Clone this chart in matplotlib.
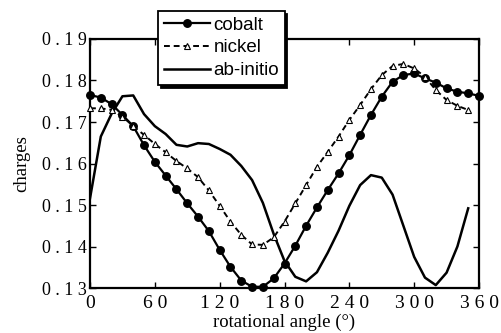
import numpy as np
import matplotlib
matplotlib.use("Agg")
import matplotlib.pyplot as plt

# values, every 10 degrees
angle_cobalt = np.arange(0, 361, 10)
cobalt = [0.1765, 0.1759, 0.1743, 0.1717, 0.1690, 0.1644, 0.1604, 0.1571, 0.1538,
          0.1504, 0.1472, 0.1437, 0.1392, 0.1351, 0.1318, 0.1303, 0.1303, 0.1323,
          0.1359, 0.1402, 0.1450, 0.1494, 0.1536, 0.1576, 0.1620, 0.1669, 0.1717,
          0.1761, 0.1797, 0.1813, 0.1817, 0.1805, 0.1795, 0.1781, 0.1773, 0.1769,
          0.1763]

angle_nickel = np.arange(0, 351, 10)
nickel = [0.1733, 0.1733, 0.1729, 0.1713, 0.1690, 0.1669, 0.1647, 0.1627, 0.1606,
          0.1588, 0.1567, 0.1535, 0.1498, 0.1460, 0.1428, 0.1405, 0.1404, 0.1422,
          0.1460, 0.1504, 0.1548, 0.1592, 0.1628, 0.1665, 0.1705, 0.1741, 0.1779,
          0.1813, 0.1835, 0.1840, 0.1829, 0.1809, 0.1777, 0.1753, 0.1739, 0.1729]

angle_abinitio = np.arange(0, 351, 10)
abinitio = [0.1516, 0.1665, 0.1720, 0.1762, 0.1764, 0.1719, 0.1690, 0.1671, 0.1645,
            0.1641, 0.1649, 0.1647, 0.1635, 0.1621, 0.1594, 0.1560, 0.1505, 0.1430,
            0.1365, 0.1327, 0.1316, 0.1338, 0.1385, 0.1438, 0.1498, 0.1548, 0.1572,
            0.1566, 0.1525, 0.1450, 0.1375, 0.1325, 0.1307, 0.1337, 0.1400, 0.1492]

x_ticks = [0, 60, 120, 180, 240, 300, 360]
y_ticks = [0.13, 0.14, 0.15, 0.16, 0.17, 0.18, 0.19]


def spaced(s):
    # the scanned figure has wide letter spacing on tick labels
    return " ".join(s)


fig = plt.figure(figsize=(5.02, 3.33), dpi=100)
ax = fig.add_axes([0.1793, 0.1351, 0.7749, 0.7478])

serif = "Liberation Serif"

ax.plot(angle_cobalt, cobalt, color="black", lw=1.6, marker="o", ms=5.4,
        label="cobalt", clip_on=False, zorder=3)
ax.plot(angle_nickel, nickel, color="black", lw=1.4, ls=(0, (3, 2)), marker="^",
        ms=5, mfc="white", mew=0.8, label="nickel", clip_on=False, zorder=3)
ax.plot(angle_abinitio, abinitio, color="black", lw=1.8, label="ab-initio",
        zorder=2)

ax.set_xlim(0, 360)
ax.set_ylim(0.13, 0.19)
ax.set_xticks(x_ticks)
ax.set_yticks(y_ticks)
ax.set_xticklabels([spaced(str(t)) for t in x_ticks], family=serif, fontsize=14)
ax.set_yticklabels([spaced(f"{t:.2f}") for t in y_ticks], family=serif, fontsize=13)
ax.tick_params(direction="in", length=4, width=1, top=True, right=True)
ax.tick_params(axis="y", pad=2)
ax.tick_params(axis="x", pad=5)
for sp in ax.spines.values():
    sp.set_linewidth(1.6)

ax.set_xlabel("rotational angle (°)", family=serif, fontsize=13.5, labelpad=1)
ax.set_ylabel("charges", family=serif, fontsize=13.5, labelpad=9)

leg = ax.legend(loc="upper left", bbox_to_anchor=(158 / 502, 1 - 11 / 333),
                bbox_transform=fig.transFigure, frameon=True, fancybox=False,
                shadow={"color": "black", "alpha": 1}, framealpha=1,
                edgecolor="black", handlelength=2.5, handletextpad=0.15,
                borderpad=0.3, labelspacing=0.3, borderaxespad=0,
                prop={"family": "Liberation Sans", "size": 13.5})
leg.get_frame().set_linewidth(1.3)
leg.set_zorder(5)

fig.savefig("out.png", dpi=100)
